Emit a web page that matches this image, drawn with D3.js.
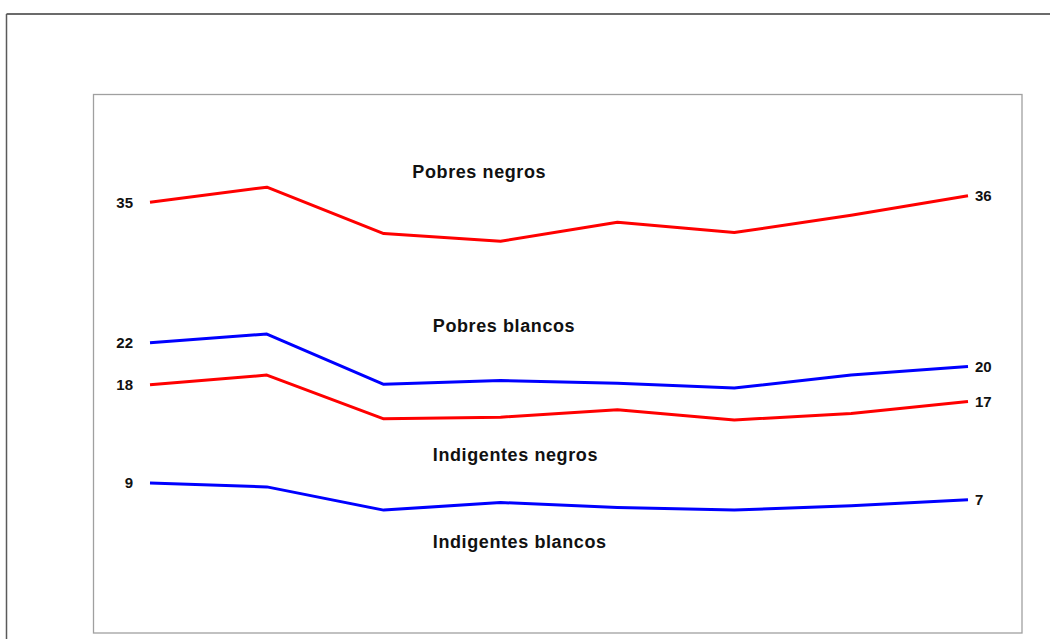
<!DOCTYPE html>
<html>
<head>
<meta charset="utf-8">
<script src="https://cdn.jsdelivr.net/npm/d3@7"></script>
<style>
  html, body { margin: 0; padding: 0; background: #fff; }
  svg { display: block; }
  text { font-family: "Liberation Sans", Arial, sans-serif; font-weight: bold; fill: #111; }
</style>
</head>
<body>
<svg id="chart" width="1050" height="639"></svg>
<script>
// ---- data ----
const periods = ["1", "2", "3", "4", "5", "6", "7", "8"];
const seriesNames = ["Pobres negros", "Pobres blancos", "Indigentes negros", "Indigentes blancos"];
const seriesColors = ["#ff0000", "#0000ff", "#ff0000", "#0000ff"];
const pobresNegros      = [35.0, 36.4, 32.1, 31.4, 33.15, 32.2, 33.8, 35.6];
const pobresBlancos     = [22.0, 22.8, 18.15, 18.5, 18.25, 17.8, 19.0, 19.8];
const indigentesNegros  = [18.1, 19.0, 14.95, 15.1, 15.8, 14.85, 15.45, 16.55];
const indigentesBlancos = [9.0, 8.65, 6.5, 7.2, 6.75, 6.5, 6.9, 7.45];
const startLabels = ["35", "22", "18", "9"];
const endLabels   = ["36", "20", "17", "7"];
// series name label anchor (offset in period steps from first point, value), left-aligned
const nameLabelPos = [[2.245, 37.8], [2.42, 23.6], [2.42, 11.6], [2.42, 3.6]];

const allSeries = [pobresNegros, pobresBlancos, indigentesNegros, indigentesBlancos];

const svg = d3.select("#chart");

// outer frame
svg.append("line").attr("x1", 6.5).attr("y1", 14).attr("x2", 1050).attr("y2", 14)
  .attr("stroke", "#3a3a3a").attr("stroke-width", 1.5);
svg.append("line").attr("x1", 6.5).attr("y1", 14).attr("x2", 6.5).attr("y2", 639)
  .attr("stroke", "#5a5a5a").attr("stroke-width", 1.5);

// inner plot frame
const frame = {left: 93.5, top: 94.5, right: 1022, bottom: 633};
svg.append("rect")
  .attr("x", frame.left).attr("y", frame.top)
  .attr("width", frame.right - frame.left).attr("height", frame.bottom - frame.top)
  .attr("fill", "none").attr("stroke", "#a0a0a0").attr("stroke-width", 1.3);

// scales
const x = d3.scalePoint().domain(periods).range([150, 968]);
const y = d3.scaleLinear().domain([0, 45]).range([580.3, 94.3]);

const line = d3.line()
  .x((d, i) => x(periods[i]))
  .y(d => y(d));

allSeries.forEach((s, k) => {
  svg.append("path")
    .datum(s)
    .attr("d", line)
    .attr("fill", "none")
    .attr("stroke", seriesColors[k])
    .attr("stroke-width", 3)
    .attr("stroke-linejoin", "round");

  svg.append("text")
    .attr("x", x(periods[0]) - 17)
    .attr("y", y(s[0]))
    .attr("dy", "0.35em")
    .attr("text-anchor", "end")
    .attr("font-size", 15)
    .text(startLabels[k]);

  svg.append("text")
    .attr("x", x(periods[periods.length - 1]) + 7)
    .attr("y", y(s[s.length - 1]))
    .attr("dy", "0.35em")
    .attr("text-anchor", "start")
    .attr("font-size", 15)
    .text(endLabels[k]);

  const [pi, pv] = nameLabelPos[k];
  const step = x.step();
  svg.append("text")
    .attr("x", x(periods[0]) + pi * step)
    .attr("y", y(pv))
    .attr("dy", "0.35em")
    .attr("text-anchor", "start")
    .attr("font-size", 18)
    .attr("letter-spacing", 0.6)
    .text(seriesNames[k]);
});
</script>
</body>
</html>
